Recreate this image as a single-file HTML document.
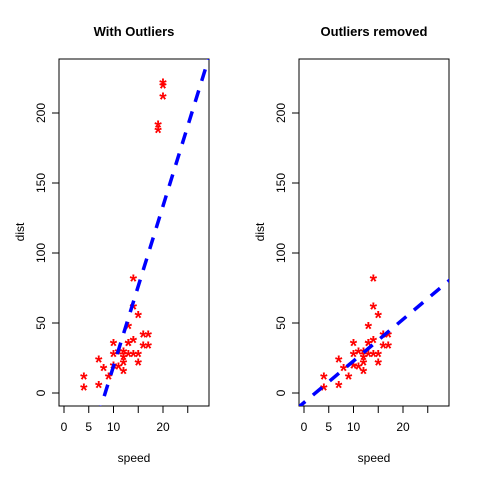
<!DOCTYPE html>
<html><head><meta charset="utf-8"><style>
html,body{margin:0;padding:0;background:#fff;width:480px;height:480px;overflow:hidden;}
svg{display:block;font-family:"Liberation Sans",Arial,sans-serif;}
</style></head><body>
<svg id="chart" width="480" height="480" viewBox="0 0 480 480"></svg>
<script>
const speedAll = [4,4,7,7,8,9,10,10,10,11,11,12,12,12,12,13,13,13,13,14,14,14,14,15,15,15,16,16,17,17,19,19,20,20,20];
const distAll  = [2,10,4,22,16,10,18,26,34,17,28,14,20,24,28,26,34,34,46,26,36,60,80,20,26,54,32,40,32,40,190,186,220,218,210];
const speedClean = [4,4,7,7,8,9,10,10,10,11,11,12,12,12,12,13,13,13,13,14,14,14,14,15,15,15,16,16,17,17];
const distClean  = [2,10,4,22,16,10,18,26,34,17,28,14,20,24,28,26,34,34,46,26,36,60,80,20,26,54,32,40,32,40];
const xTicks = [0,5,10,15,20,25];
const xTickLabels = ["0","5","10","","20",""];
const yTicks = [0,50,100,150,200];
const yTickLabels = ["0","50","100","150","200"];
const titles = ["With Outliers","Outliers removed"];

const NS="http://www.w3.org/2000/svg";
const svg=document.getElementById('chart');
function mk(tag,attrs,parent){const e=document.createElementNS(NS,tag);for(const k in attrs)e.setAttribute(k,attrs[k]);(parent||svg).appendChild(e);return e;}
function lm(x,y){const n=x.length;let mx=0,my=0;for(let i=0;i<n;i++){mx+=x[i];my+=y[i];}mx/=n;my/=n;let sxy=0,sxx=0;for(let i=0;i<n;i++){sxy+=(x[i]-mx)*(y[i]-my);sxx+=(x[i]-mx)**2;}const b=sxy/sxx;return [my-b*mx,b];}

function panel(off,idx,xs,ys){
  const g=mk('g',{});
  
  
  const L=59+off,R=209+off,T=59,B=406;
  const sx=v=>64+off+v*4.95;
  const sy=v=>393-v*1.4;
  const clip=mk('clipPath',{id:'clip'+idx},g);
  mk('rect',{x:L,y:T,width:R-L,height:B-T},clip);
  const box=mk('rect',{x:L,y:T,width:R-L,height:B-T,fill:'none',stroke:'#000','stroke-width':1},g);
  
  
  const t=mk('text',{x:(L+R)/2,y:36,'text-anchor':'middle','font-size':13,'font-weight':'bold'},g);
  t.textContent=titles[idx];
  
  
  const xa=mk('g',{},g);
  
  
  xTicks.forEach((v,i)=>{
    mk('line',{x1:sx(v),x2:sx(v),y1:B,y2:B+7,stroke:'#000'},xa);
    if(xTickLabels[i]){const l=mk('text',{x:sx(v),y:B+25,'text-anchor':'middle','font-size':12},xa);l.textContent=xTickLabels[i];
      
      }
  });
  const xl=mk('text',{x:(L+R)/2,y:462,'text-anchor':'middle','font-size':12},g);
  xl.textContent='speed';
  
  
  const ya=mk('g',{},g);
  
  
  yTicks.forEach((v,i)=>{
    mk('line',{x1:L-7,x2:L,y1:sy(v),y2:sy(v),stroke:'#000'},ya);
    const l=mk('text',{x:L-14,y:sy(v),'text-anchor':'middle','font-size':12,transform:`rotate(-90 ${L-14} ${sy(v)})`},ya);
    l.textContent=yTickLabels[i];
    
    
  });
  const yl=mk('text',{x:off+24,y:232,'text-anchor':'middle','font-size':12,transform:`rotate(-90 ${off+24} 232)`},g);
  yl.textContent='dist';
  
  
  const pts=mk('g',{},g);
  
  
  xs.forEach((v,i)=>{
    const p=mk('text',{x:sx(v),y:sy(ys[i])+7,'text-anchor':'middle','font-size':19,fill:'#ff0000','font-weight':'bold'},pts);
    p.textContent='*';
    
    
  });
  const [a,b]=lm(xs,ys);
  const x0=-5,x1=40;
  const ln=mk('line',{x1:sx(x0),y1:sy(a+b*x0),x2:sx(x1),y2:sy(a+b*x1),stroke:'#0000ff','stroke-width':3.5,'stroke-dasharray':'12 10','clip-path':`url(#clip${idx})`},g);
  
  
}
panel(0,0,speedAll,distAll);
panel(240,1,speedClean,distClean);
</script>
</body></html>
